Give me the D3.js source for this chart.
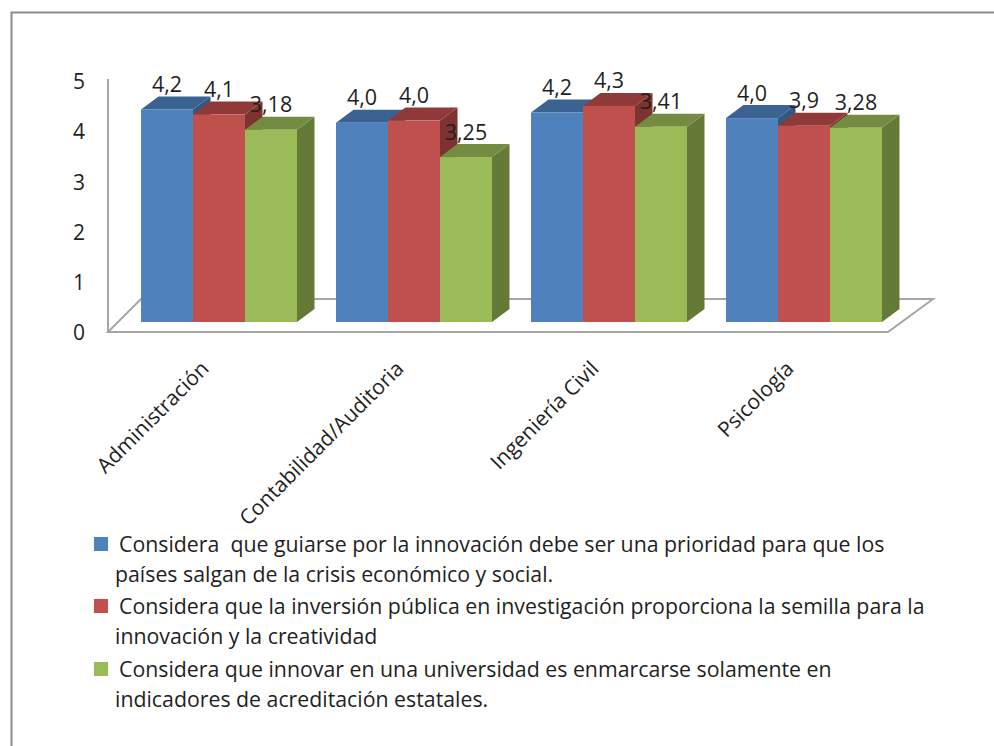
<!DOCTYPE html>
<html>
<head>
<meta charset="utf-8">
<script src="https://cdn.jsdelivr.net/npm/d3@7"></script>
<style>
html, body { margin: 0; padding: 0; background: #fff; }
svg { display: block; }
text { font-family: "Open Sans", sans-serif; fill: #1f1f1f; }
</style>
</head>
<body>
<svg id="chart" width="994" height="746"></svg>
<script>
var categories = ["Administración", "Contabilidad/Auditoria", "Ingeniería Civil", "Psicología"];
var series = ["s1", "s2", "s3"];
// bar heights as drawn (the printed labels do not always agree with them)
var blueValues = [4.2, 3.94, 4.14, 4.03];
var redValues = [4.1, 3.98, 4.27, 3.88];
var greenValues = [3.8, 3.26, 3.86, 3.84];
var blueLabels = ["4,2", "4,0", "4,2", "4,0"];
var redLabels = ["4,1", "4,0", "4,3", "3,9"];
var greenLabels = ["3,18", "3,25", "3,41", "3,28"];
var yTicks = [0, 1, 2, 3, 4, 5];
var legendLines = [
	["Considera  que guiarse por la innovación debe ser una prioridad para que los", "países salgan de la crisis económico y social."],
	["Considera que la inversión pública en investigación proporciona la semilla para la", "innovación y la creatividad"],
	["Considera que innovar en una universidad es enmarcarse solamente en", "indicadores de acreditación estatales."]
];
var frontColors = ["#4f81bd", "#c0504d", "#9bbb59"];
var topColors = ["#3a6391", "#8f3a38", "#748c42"];
var sideColors = ["#335780", "#7e3331", "#667a37"];

var values = [blueValues, redValues, greenValues];
var labels = [blueLabels, redLabels, greenLabels];

var svg = d3.select("#chart");

var depthX = 17.5, depthY = 13;
var floorY = 322;

var x0 = d3.scaleBand().domain(categories).range([121.5, 901.5]).paddingInner(0.2).paddingOuter(0.1);
var x1 = d3.scaleBand().domain(series).range([0, x0.bandwidth()]);
var y = d3.scaleLinear().domain([0, 5]).range([floorY, floorY - 253]);
// tick labels sit a little tighter than the bars in the reference
var yLabels = d3.scaleLinear().domain([0, 5]).range([333, 82]);

// picture frame
svg.append("path")
	.attr("d", "M11.5,746V12.5H994")
	.attr("fill", "none")
	.attr("stroke", "#8c8c8c")
	.attr("stroke-width", 2);

// floor
svg.append("path")
	.attr("d", "M108,332L141,299H933L888,332Z")
	.attr("fill", "#fff")
	.attr("stroke", "#a6a6a6")
	.attr("stroke-width", 2);

// y axis
svg.append("line")
	.attr("x1", 108).attr("x2", 108)
	.attr("y1", 79).attr("y2", 332)
	.attr("stroke", "#a6a6a6")
	.attr("stroke-width", 2);
var yAxis = svg.append("g")
	.attr("transform", "translate(108,0)")
	.call(d3.axisLeft(yLabels).tickValues(yTicks).tickFormat(d3.format("d")).tickSize(0).tickPadding(23));
yAxis.select(".domain").remove();
yAxis.selectAll("text").attr("font-size", 21).style("font-family", '"Open Sans"').attr("fill", "#1f1f1f");

// bars, one group per category
var groups = svg.selectAll("g.cat")
	.data(categories)
	.enter().append("g")
	.attr("class", "cat")
	.attr("transform", function(d) { return "translate(" + x0(d) + ",0)"; });

series.forEach(function(s, si) {
	function barTop(i) { return y(values[si][i]); }

	groups.append("path")
		.attr("fill", sideColors[si])
		.attr("d", function(d, i) {
			var r = x1(s) + x1.bandwidth();
			return "M" + r + "," + barTop(i) + "l" + depthX + "," + (-depthY) + "V" + (floorY - depthY) + "l" + (-depthX) + "," + depthY + "Z";
		});
	groups.append("path")
		.attr("fill", topColors[si])
		.attr("d", function(d, i) {
			return "M" + x1(s) + "," + barTop(i) + "l" + depthX + "," + (-depthY) + "h" + x1.bandwidth() + "l" + (-depthX) + "," + depthY + "Z";
		});
	groups.append("rect")
		.attr("x", x1(s))
		.attr("y", function(d, i) { return barTop(i); })
		.attr("width", x1.bandwidth())
		.attr("height", function(d, i) { return floorY - barTop(i); })
		.attr("fill", frontColors[si]);
});

// value labels go on top of everything
series.forEach(function(s, si) {
	groups.append("text")
		.attr("x", x1(s) + x1.bandwidth() / 2)
		.attr("y", function(d, i) { return y(values[si][i]) - 17.5; })
		.attr("text-anchor", "middle")
		.attr("font-size", 21.5)
		.text(function(d, i) { return labels[si][i]; });
});

// category labels
groups.append("text")
	.attr("text-anchor", "end")
	.attr("font-size", 21)
	.attr("transform", function() { return "translate(" + (x0.bandwidth() / 2 - 9) + ",370) rotate(-45)"; })
	.text(function(d) { return d; });

// legend
var legendY = [552, 614, 677];
var legend = svg.selectAll("g.legend")
	.data(legendLines)
	.enter().append("g")
	.attr("class", "legend");
legend.append("rect")
	.attr("x", 94)
	.attr("y", function(d, i) { return legendY[i] - 15; })
	.attr("width", 14)
	.attr("height", 14)
	.attr("fill", function(d, i) { return frontColors[i]; });
legend.append("text")
	.attr("x", 119)
	.attr("y", function(d, i) { return legendY[i]; })
	.attr("font-size", 21.3)
	.style("white-space", "pre")
	.text(function(d) { return d[0]; });
legend.append("text")
	.attr("x", 115)
	.attr("y", function(d, i) { return legendY[i] + 30; })
	.attr("font-size", 21.3)
	.text(function(d) { return d[1]; });
</script>
</body>
</html>
